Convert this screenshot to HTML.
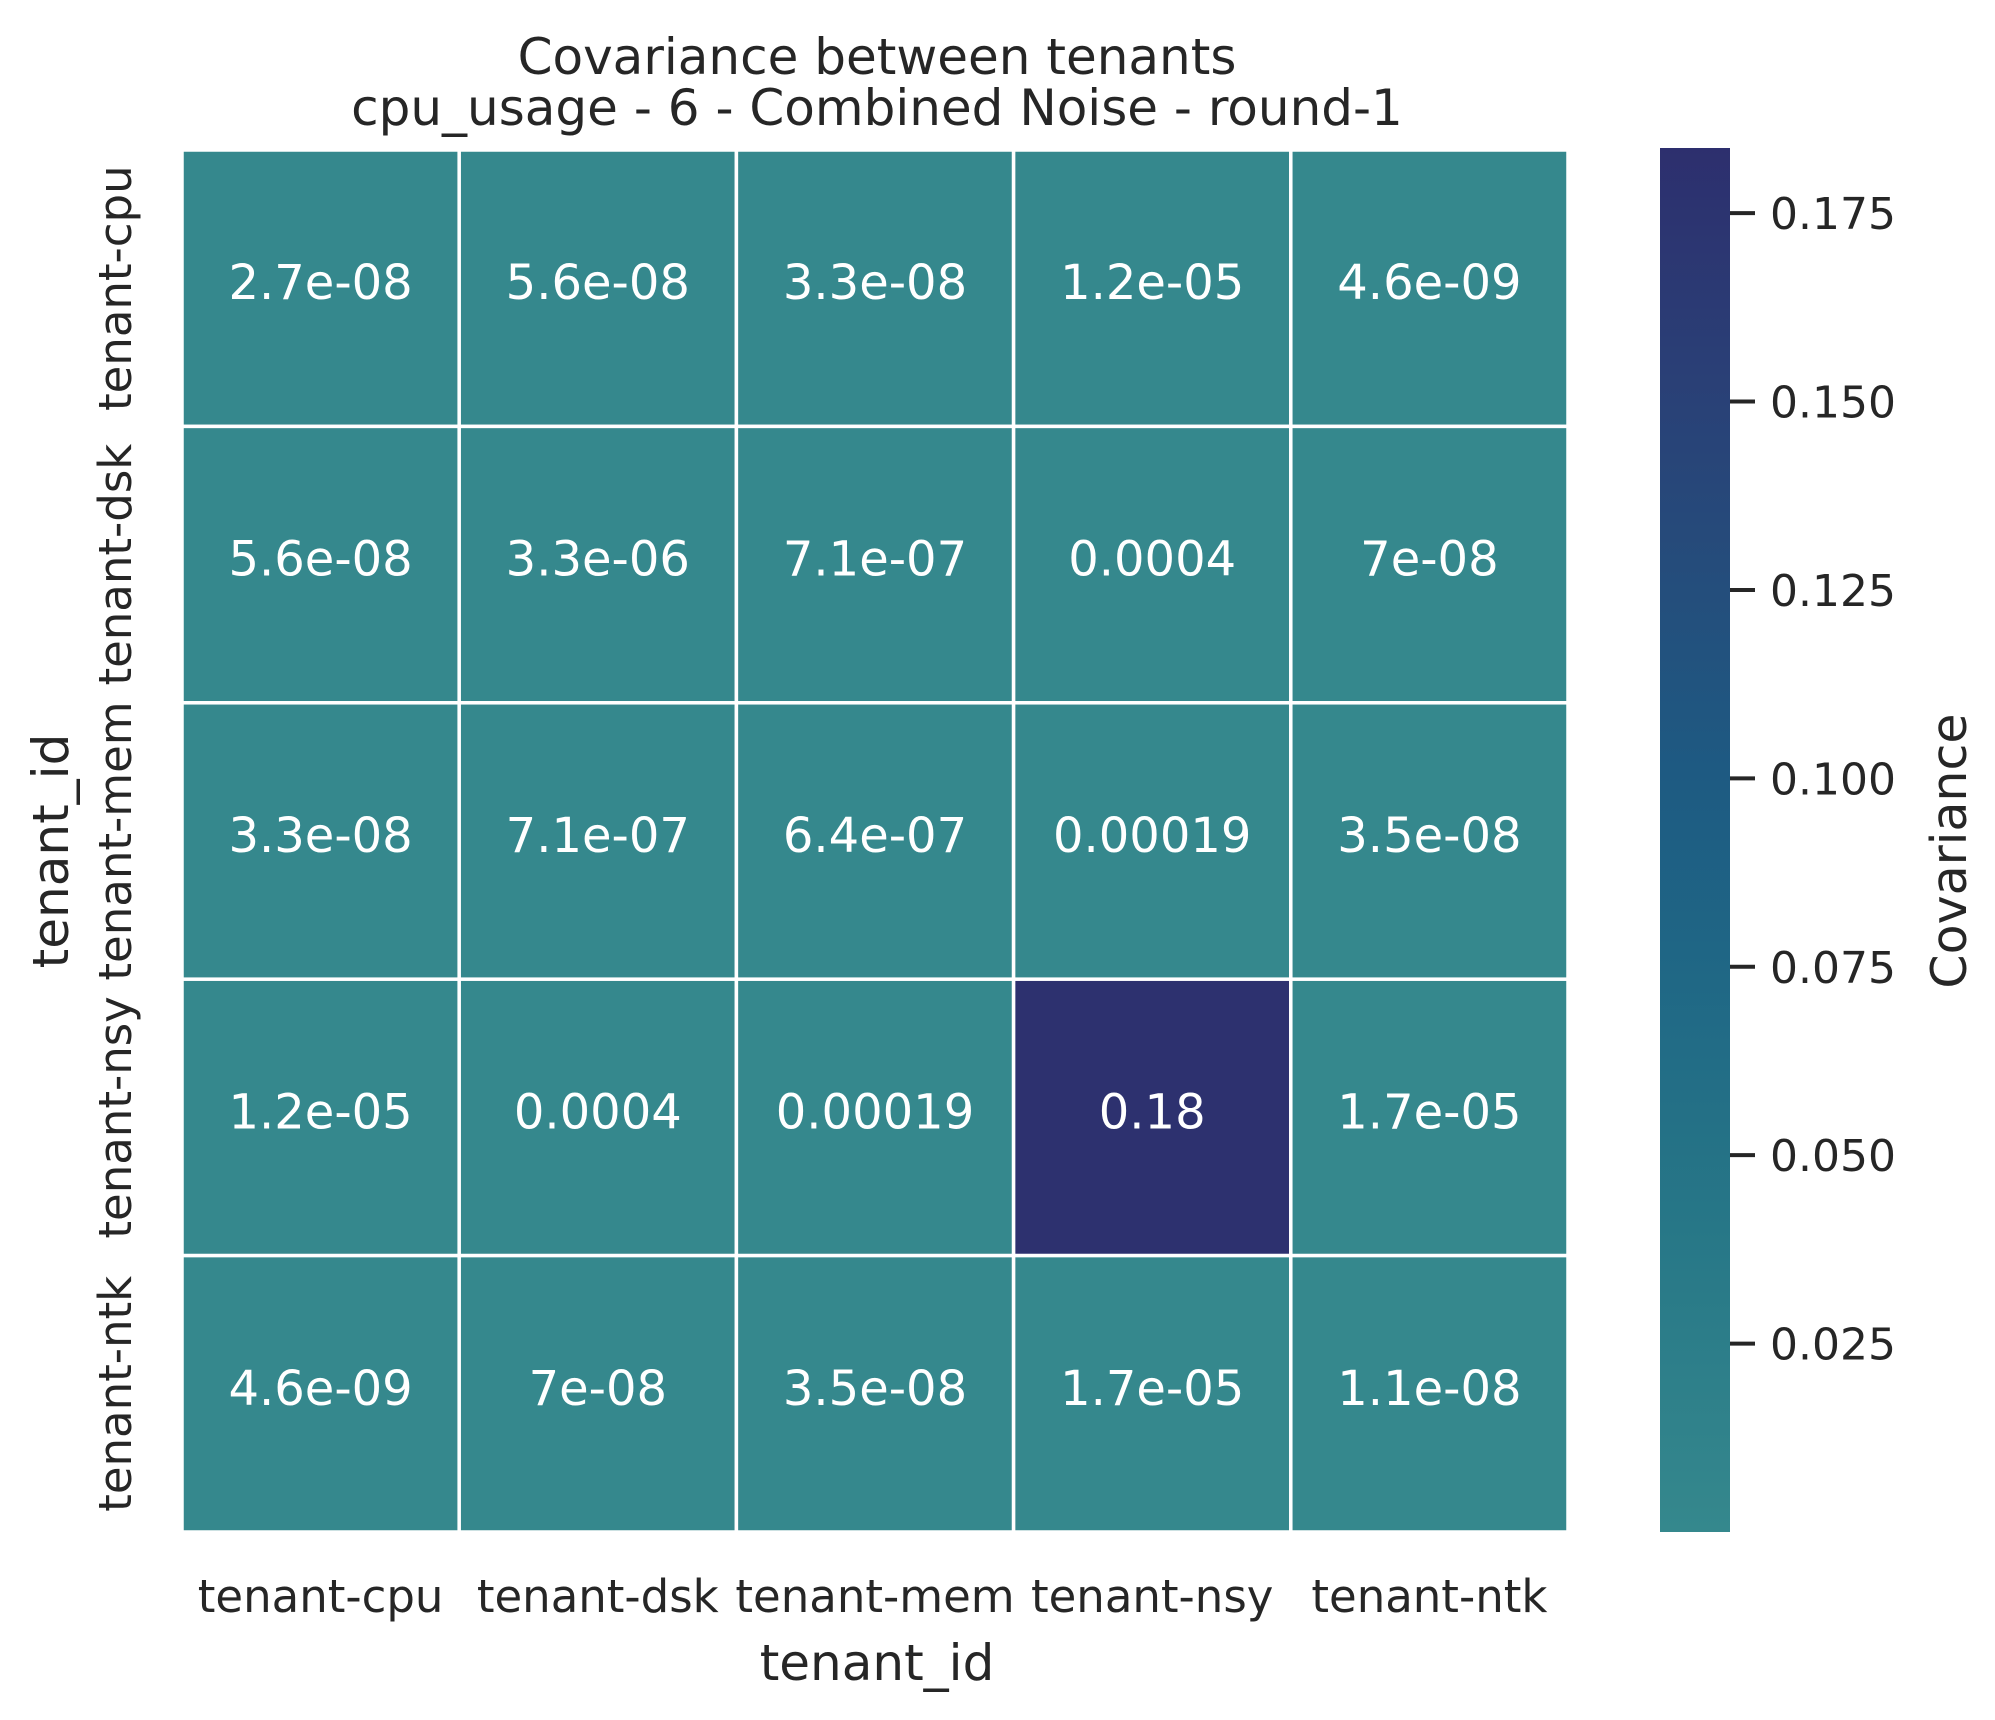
<!DOCTYPE html>
<html><head><meta charset="utf-8"><style>
html,body{margin:0;padding:0;background:#fff}
svg text{font-family:"DejaVu Sans","Liberation Sans",sans-serif;fill:#262626}
</style></head><body>
<svg id="chart" width="1995" height="1715" xmlns="http://www.w3.org/2000/svg">
<defs><linearGradient id="cg" x1="0" y1="1" x2="0" y2="0">
<stop offset="0" stop-color="#35888d"/>
<stop offset="0.22" stop-color="#277787"/>
<stop offset="0.42" stop-color="#1f6685"/>
<stop offset="0.55" stop-color="#1e5a82"/>
<stop offset="0.7" stop-color="#254c7b"/>
<stop offset="0.84" stop-color="#2a3f76"/>
<stop offset="1" stop-color="#2d2f6e"/>
</linearGradient></defs>
<g id="title">
<text x="877" y="74" font-size="50" text-anchor="middle">Covariance between tenants</text>
<text x="877" y="125" font-size="50" text-anchor="middle">cpu_usage - 6 - Combined Noise - round-1</text>
</g>
<g id="cells"></g>
<g id="xt"></g><g id="yt"></g>
<text x="877" y="1680" font-size="50" text-anchor="middle">tenant_id</text>
<text transform="translate(68,851) rotate(-90)" font-size="50" text-anchor="middle">tenant_id</text>
<rect x="1660" y="148" width="70" height="1384" fill="url(#cg)"/>
<g id="cbt"></g>
<text transform="translate(1966,851) rotate(-90)" font-size="49" text-anchor="middle">Covariance</text>
</svg>
<script>
const categories = ["tenant-cpu","tenant-dsk","tenant-mem","tenant-nsy","tenant-ntk"];
const values = [
 [2.7e-08,5.6e-08,3.3e-08,1.2e-05,4.6e-09],
 [5.6e-08,3.3e-06,7.1e-07,0.0004,7e-08],
 [3.3e-08,7.1e-07,6.4e-07,0.00019,3.5e-08],
 [1.2e-05,0.0004,0.00019,0.18,1.7e-05],
 [4.6e-09,7e-08,3.5e-08,1.7e-05,1.1e-08]
];
const labels = [
 ["2.7e-08","5.6e-08","3.3e-08","1.2e-05","4.6e-09"],
 ["5.6e-08","3.3e-06","7.1e-07","0.0004","7e-08"],
 ["3.3e-08","7.1e-07","6.4e-07","0.00019","3.5e-08"],
 ["1.2e-05","0.0004","0.00019","0.18","1.7e-05"],
 ["4.6e-09","7e-08","3.5e-08","1.7e-05","1.1e-08"]
];
const cbTicks = [0.025,0.05,0.075,0.1,0.125,0.15,0.175];
const cbTickLabels = ["0.025","0.050","0.075","0.100","0.125","0.150","0.175"];

const NS="http://www.w3.org/2000/svg";
const X0=182,X1=1568,Y0=150,Y1=1532,CB0=1532,CB1=148;
const flat=values.flat();
const vmin=Math.min(...flat), vmax=Math.max(...flat);
const cbMax=0.175+ (213-148)/188*0.025;
const cw=(X1-X0)/categories.length, ch=(Y1-Y0)/categories.length;
const xPos=i=>X0+i*cw, yPos=i=>Y0+i*ch;
const cbY=v=>CB0-(v-vmin)/(cbMax-vmin)*(CB0-CB1);
const stops=[[0,[53,136,141]],[0.22,[39,119,135]],[0.42,[31,102,133]],[0.55,[30,90,130]],[0.7,[37,76,123]],[0.84,[42,63,118]],[1,[45,47,110]]];
function color(v){
 let t=(v-vmin)/(cbMax-vmin);t=Math.max(0,Math.min(1,t));
 for(let k=1;k<stops.length;k++){if(t<=stops[k][0]){const a=stops[k-1],b=stops[k];const f=(t-a[0])/(b[0]-a[0]);
 return "rgb("+a[1].map((c,j)=>Math.round(c+(b[1][j]-c)*f)).join(",")+")";}}
 return "rgb(45,47,110)";
}
function mk(tag,attrs,parent){const e=document.createElementNS(NS,tag);for(const k in attrs)e.setAttribute(k,attrs[k]);parent.appendChild(e);return e;}
const cells=document.getElementById('cells');
values.forEach((row,r)=>row.forEach((v,c)=>{
 const rc=mk('rect',{x:xPos(c),y:yPos(r),width:cw,height:ch,fill:color(v),stroke:'#fff','stroke-width':3.5},cells);
 
 
 const t=mk('text',{x:xPos(c)+cw/2,y:yPos(r)+ch/2+11,'font-size':48,'text-anchor':'middle',style:'fill:#fff'},cells);
 t.textContent=labels[r][c];
 
 
}));
const xt=document.getElementById('xt'),yt=document.getElementById('yt');
categories.forEach((cat,i)=>{
 const t=mk('text',{x:xPos(i)+cw/2,y:1612,'font-size':45,'text-anchor':'middle'},xt);
 t.textContent=cat;
 
 
 const cy=yPos(i)+ch/2;
 const u=mk('text',{transform:`translate(131,${cy}) rotate(-90)`,'font-size':45,'text-anchor':'middle'},yt);
 u.textContent=cat;
 
 
});
const cbt=document.getElementById('cbt');
cbTicks.forEach((v,i)=>{
 const y=cbY(v);
 const l=mk('line',{x1:1730,x2:1755,y1:y,y2:y,stroke:'#262626','stroke-width':4},cbt);
 
 
 const t=mk('text',{x:1770,y:y+16,'font-size':44},cbt);
 t.textContent=cbTickLabels[i];
 
 
});
</script>
</body></html>
